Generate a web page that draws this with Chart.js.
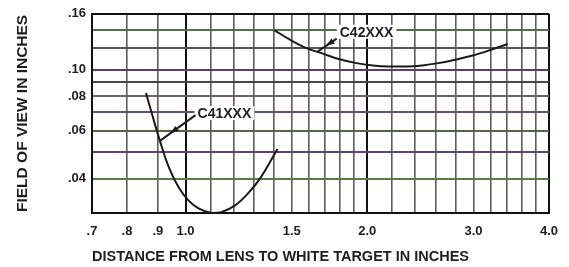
<!DOCTYPE html>
<html>
<head>
<meta charset="utf-8">
<script src="https://cdn.jsdelivr.net/npm/chart.js@4"></script>
<style>
  html, body { margin: 0; padding: 0; background: #fff; }
</style>
</head>
<body>
<canvas id="fovChart" width="569" height="267"></canvas>
<script>
// curve C41XXX (distance in inches, field of view in inches)
var c41X = [0.86, 0.88, 0.907, 0.939, 0.975, 1.012, 1.051, 1.104, 1.146, 1.208, 1.268, 1.332, 1.42];
var c41Y = [0.0823, 0.0689, 0.0550, 0.0439, 0.0371, 0.0333, 0.0312, 0.0300, 0.0302, 0.0320, 0.0353, 0.0404, 0.0514];

// curve C42XXX
var c42X = [1.403, 1.492, 1.59, 1.693, 1.80, 1.92, 2.044, 2.174, 2.317, 2.468, 2.624, 2.797, 2.979, 3.168, 3.415];
var c42Y = [0.1396, 0.1284, 0.1197, 0.1143, 0.1092, 0.1057, 0.1037, 0.1028, 0.1028, 0.1037, 0.1057, 0.1087, 0.1124, 0.1172, 0.1242];

// grid + tick labels
var xGrid = [0.7, 0.8, 0.9, 1.0, 1.1, 1.2, 1.3, 1.4, 1.5, 1.6, 1.7, 1.8, 1.9, 2.0, 2.2, 2.4, 2.6, 2.8, 3.0, 3.2, 3.4, 3.6, 3.8, 4.0];
var xLabelValues = [0.7, 0.8, 0.9, 1.0, 1.5, 2.0, 3.0, 4.0];
var xLabelText = ['.7', '.8', '.9', '1.0', '1.5', '2.0', '3.0', '4.0'];

var yGrid = [0.03, 0.04, 0.05, 0.06, 0.07, 0.08, 0.09, 0.10, 0.12, 0.14, 0.16];
var yLabelValues = [0.04, 0.06, 0.08, 0.10, 0.16];
var yLabelText = ['.04', '.06', '.08', '.10', '.16'];

// curve names with label spot and leader line ends (data units)
var curveNames = ['C41XXX', 'C42XXX'];
var labelX = [1.16, 1.995];
var labelY = [0.0695, 0.1376];
var leaderFromX = [1.039, 1.78];
var leaderFromY = [0.0683, 0.1298];
var leaderToX = [0.907, 1.65];
var leaderToY = [0.055, 0.116];


function toPoints(xs, ys) {
    return xs.map(function (v, i) { return { x: v, y: ys[i] }; });
}

function findLabel(values, texts, v) {
    for (var i = 0; i < values.length; i++) {
        if (Math.abs(values[i] - v) < 1e-6) return texts[i];
    }
    return '';
}

// scanned grid has coloured fringes on the horizontal lines
var hLineColors = {
    '0.04': '#587a4f', '0.05': '#5e4474', '0.06': '#4d6843', '0.07': '#6a4c7a',
    '0.08': '#6e5e72', '0.09': '#4a4450', '0.1': '#5a3c6e', '0.12': '#555555', '0.14': '#50704a'
};

var FONT = '"Liberation Sans", Arial, sans-serif';

var labelPlugin = {
    id: 'curveLabels',
    afterDatasetsDraw: function (chart) {
        var ctx = chart.ctx;
        var x = chart.scales.x, y = chart.scales.y;
        ctx.save();
        ctx.font = 'bold 14px ' + FONT;
        curveNames.forEach(function (name, i) {
            var lx = x.getPixelForValue(labelX[i]);
            var ly = y.getPixelForValue(labelY[i]);
            var w = ctx.measureText(name).width;
            ctx.fillStyle = '#fff';
            ctx.fillRect(lx - w / 2 - 3, ly - 7, w + 6, 14);
            ctx.fillStyle = '#1e1e1e';
            ctx.textAlign = 'center';
            ctx.textBaseline = 'middle';
            ctx.fillText(name, lx, ly + 1);

            var sx = x.getPixelForValue(leaderFromX[i]), sy = y.getPixelForValue(leaderFromY[i]);
            var tx = x.getPixelForValue(leaderToX[i]), ty = y.getPixelForValue(leaderToY[i]);
            ctx.strokeStyle = '#1e1e1e';
            ctx.lineWidth = 2;
            ctx.beginPath();
            ctx.moveTo(sx, sy);
            ctx.lineTo(tx, ty);
            ctx.stroke();

            // arrow head part way along the leader
            var ang = Math.atan2(ty - sy, tx - sx);
            var f = i === 0 ? 0.72 : 0.55;
            var hx = sx + (tx - sx) * f, hy = sy + (ty - sy) * f;
            ctx.beginPath();
            ctx.moveTo(hx, hy);
            ctx.lineTo(hx - 9 * Math.cos(ang) + 3 * Math.sin(ang), hy - 9 * Math.sin(ang) - 3 * Math.cos(ang));
            ctx.lineTo(hx - 9 * Math.cos(ang) - 3 * Math.sin(ang), hy - 9 * Math.sin(ang) + 3 * Math.cos(ang));
            ctx.closePath();
            ctx.fillStyle = '#1e1e1e';
            ctx.fill();
        });
        ctx.restore();
    }
};

var ctx = document.getElementById('fovChart').getContext('2d');

var fovChart = new Chart(ctx, {
    type: 'line',
    data: {
        datasets: [{
            label: 'C41XXX',
            data: toPoints(c41X, c41Y),
            borderColor: '#1a1a1a',
            borderWidth: 2,
            pointRadius: 0,
            tension: 0.4,
            fill: false,
            clip: 4
        }, {
            label: 'C42XXX',
            data: toPoints(c42X, c42Y),
            borderColor: '#1a1a1a',
            borderWidth: 2,
            pointRadius: 0,
            tension: 0.4,
            fill: false,
            clip: 4
        }]
    },
    options: {
        responsive: false,
        animation: false,
        layout: { padding: { top: 12, right: 14, left: 0, bottom: 0 } },
        plugins: {
            legend: { display: false },
            tooltip: { enabled: false }
        },
        scales: {
            x: {
                type: 'logarithmic',
                min: 0.7,
                max: 4.0,
                afterBuildTicks: function (axis) {
                    axis.ticks = xGrid.map(function (v) { return { value: v }; });
                },
                afterFit: function (axis) { axis.height = 54; },
                grid: {
                    drawTicks: false,
                    color: function (c) {
                        var v = c.tick ? c.tick.value : 0;
                        if (v === 1.0 || v === 2.0 || v === 0.7 || v === 4.0) return '#111';
                        return '#5c5c5c';
                    },
                    lineWidth: function (c) {
                        var v = c.tick ? c.tick.value : 0;
                        if (v === 1.0 || v === 2.0 || v === 0.7 || v === 4.0) return 2;
                        return 1.6;
                    }
                },
                border: { display: true, color: '#111', width: 2 },
                ticks: {
                    autoSkip: false,
                    maxRotation: 0,
                    padding: 11,
                    color: '#1e1e1e',
                    font: { family: FONT, size: 13, weight: 'bold' },
                    callback: function (value) { return findLabel(xLabelValues, xLabelText, value); }
                },
                title: {
                    display: true,
                    text: 'DISTANCE FROM LENS TO WHITE TARGET IN INCHES',
                    align: 'start',
                    color: '#1e1e1e',
                    font: { family: FONT, size: 14.5, weight: 'bold' },
                    padding: { top: 0, bottom: 1 }
                }
            },
            y: {
                type: 'logarithmic',
                min: 0.03,
                max: 0.16,
                afterBuildTicks: function (axis) {
                    axis.ticks = yGrid.map(function (v) { return { value: v }; });
                },
                afterFit: function (axis) { axis.width = 92; },
                grid: {
                    drawTicks: false,
                    color: function (c) {
                        var v = c.tick ? c.tick.value : 0;
                        if (v === 0.16 || v === 0.03) return '#111';
                        return hLineColors[String(v)] || '#555';
                    },
                    lineWidth: 2
                },
                border: { display: true, color: '#111', width: 2 },
                ticks: {
                    autoSkip: false,
                    padding: 6,
                    color: '#1e1e1e',
                    font: { family: FONT, size: 13, weight: 'bold' },
                    callback: function (value) { return findLabel(yLabelValues, yLabelText, value); }
                },
                title: {
                    display: true,
                    text: 'FIELD OF VIEW IN INCHES',
                    color: '#1e1e1e',
                    font: { family: FONT, size: 15.5, weight: 'bold' },
                    padding: { top: 13, bottom: 0 }
                }
            }
        }
    },
    plugins: [labelPlugin]
});
</script>
</body>
</html>
